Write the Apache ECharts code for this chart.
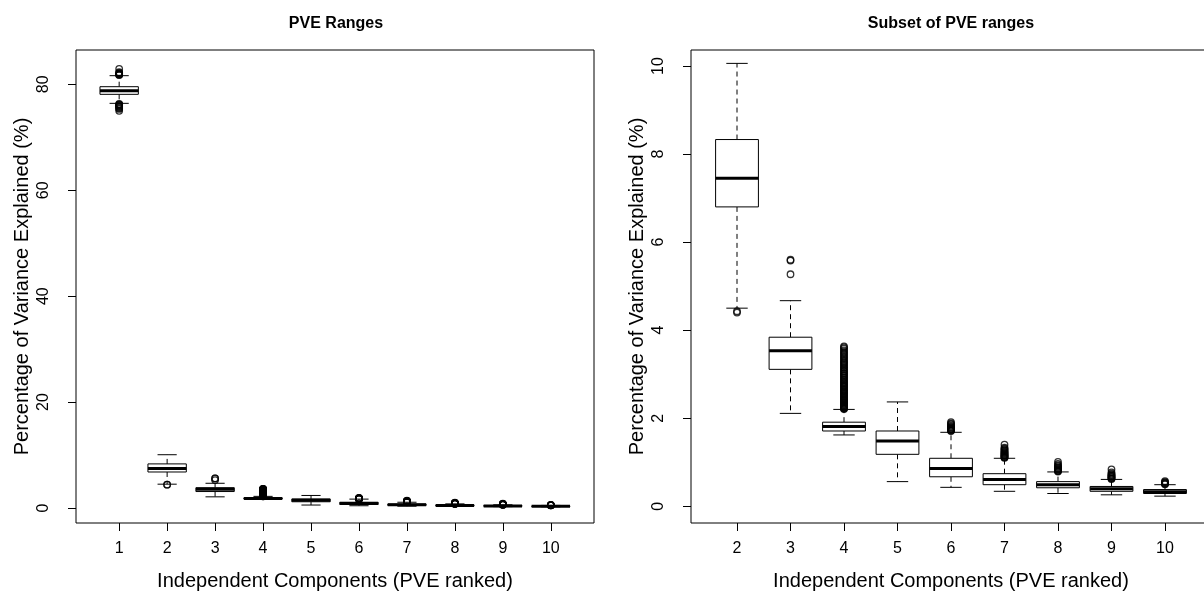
<!DOCTYPE html>
<html>
<head>
<meta charset="utf-8">
<script src="https://cdn.jsdelivr.net/npm/echarts@6/dist/echarts.min.js"></script>
<style>
  html, body { margin: 0; padding: 0; background: #fff; }
  #chart { width: 1204px; height: 592px; }
</style>
</head>
<body>
<div id="chart"></div>
<script>
// ---- data ----
const components = [1, 2, 3, 4, 5, 6, 7, 8, 9, 10];
const subsetComponents = [2, 3, 4, 5, 6, 7, 8, 9, 10];
const whiskerLow  = [76.41, 4.50, 2.11, 1.62, 0.56, 0.43, 0.34, 0.29, 0.26, 0.23];
const quartile1   = [78.11, 6.80, 3.11, 1.71, 1.18, 0.67, 0.49, 0.42, 0.34, 0.29];
const medians     = [78.79, 7.45, 3.53, 1.81, 1.48, 0.86, 0.61, 0.49, 0.40, 0.33];
const quartile3   = [79.55, 8.33, 3.84, 1.91, 1.71, 1.09, 0.74, 0.56, 0.45, 0.38];
const whiskerHigh = [81.63, 10.06, 4.67, 2.20, 2.37, 1.68, 1.09, 0.78, 0.61, 0.49];
const outliers1  = [81.75, 81.82, 81.9, 81.97, 82.05, 82.15, 82.3, 82.9, 76.3, 76.22, 76.12, 76.0, 75.9, 75.78, 75.65, 75.5, 75.35, 75.0];
const outliers2  = [4.40, 4.43];
const outliers3  = [5.27, 5.58, 5.60];
const outliers4  = [2.21, 2.22, 2.23, 2.24, 2.25, 2.26, 2.28, 2.29, 2.30, 2.32, 2.33, 2.35, 2.36, 2.38, 2.40, 2.41,
                    2.43, 2.45, 2.47, 2.49, 2.51, 2.53, 2.55, 2.57, 2.59, 2.61, 2.63, 2.65, 2.67, 2.70, 2.72, 2.74,
                    2.76, 2.79, 2.81, 2.83, 2.86, 2.88, 2.91, 2.93, 2.96, 2.98, 3.01, 3.03, 3.06, 3.08, 3.11, 3.14,
                    3.16, 3.19, 3.22, 3.25, 3.27, 3.30, 3.33, 3.36, 3.39, 3.42, 3.45, 3.48, 3.51, 3.54, 3.58, 3.61, 3.63];
const outliers5  = [];
const outliers6  = [1.71, 1.72, 1.73, 1.75, 1.76, 1.78, 1.79, 1.81, 1.83, 1.86, 1.88, 1.91];
const outliers7  = [1.10, 1.11, 1.12, 1.13, 1.15, 1.16, 1.17, 1.19, 1.20, 1.22, 1.23, 1.25, 1.27, 1.29, 1.31, 1.33, 1.40];
const outliers8  = [0.79, 0.80, 0.81, 0.83, 0.84, 0.86, 0.87, 0.89, 0.91, 0.93, 0.96, 1.01];
const outliers9  = [0.62, 0.63, 0.64, 0.66, 0.67, 0.69, 0.70, 0.72, 0.74, 0.77, 0.84];
const outliers10 = [0.50, 0.51, 0.52, 0.54, 0.55, 0.57];
const outlierLists = [outliers1, outliers2, outliers3, outliers4, outliers5, outliers6, outliers7, outliers8, outliers9, outliers10];
const leftYTicks  = [0, 20, 40, 60, 80];
const rightYTicks = [0, 2, 4, 6, 8, 10];

// ---- build ----
const FONT = "'Liberation Sans', Arial, Helvetica, sans-serif";
function boxData(list) {
  return list.map(c => {
    const i = components.indexOf(c);
    return [c, whiskerLow[i], quartile1[i], medians[i], quartile3[i], whiskerHigh[i]];
  });
}
function outlierData(list) {
  const out = [];
  list.forEach(c => {
    const i = components.indexOf(c);
    outlierLists[i].forEach(v => out.push([c, v]));
  });
  return out;
}
function renderBox(params, api) {
  const x = api.value(0);
  const lo = api.value(1), q1 = api.value(2), md = api.value(3), q3 = api.value(4), hi = api.value(5);
  const tl = api.coord([x - 0.4, q3]);
  const br = api.coord([x + 0.4, q1]);
  const c = api.coord([x, md]);
  const yLo = api.coord([x, lo])[1];
  const yHi = api.coord([x, hi])[1];
  const capL = api.coord([x - 0.2, lo])[0];
  const capR = api.coord([x + 0.2, lo])[0];
  const solid = { stroke: '#000', lineWidth: 1 };
  const dashed = { stroke: '#000', lineWidth: 1, lineDash: [5, 4] };
  return {
    type: 'group',
    children: [
      { type: 'line', shape: { x1: c[0], y1: tl[1], x2: c[0], y2: yHi }, style: dashed },
      { type: 'line', shape: { x1: c[0], y1: br[1], x2: c[0], y2: yLo }, style: dashed },
      { type: 'line', shape: { x1: capL, y1: yHi, x2: capR, y2: yHi }, style: solid },
      { type: 'line', shape: { x1: capL, y1: yLo, x2: capR, y2: yLo }, style: solid },
      { type: 'rect', shape: { x: tl[0], y: tl[1], width: br[0] - tl[0], height: br[1] - tl[1] },
        style: { stroke: '#000', fill: '#fff', lineWidth: 1 } },
      { type: 'line', shape: { x1: tl[0], y1: c[1], x2: br[0], y2: c[1] }, style: { stroke: '#000', lineWidth: 3 } }
    ]
  };
}
function xAxisOf(gridIndex, min, max, ticks) {
  return {
    type: 'value', gridIndex, min, max, position: 'bottom',
    name: 'Independent Components (PVE ranked)', nameLocation: 'middle', nameGap: 48, nameMoveOverlap: false,
    nameTextStyle: { fontFamily: FONT, fontSize: 20, color: '#000' },
    axisLine: { show: false, onZero: false },
    axisTick: { show: true, inside: false, length: 8, lineStyle: { color: '#000' }, customValues: ticks },
    axisLabel: { show: true, margin: 18, fontFamily: FONT, fontSize: 16, color: '#000', customValues: ticks },
    splitLine: { show: false }
  };
}
function yAxisOf(gridIndex, min, max, ticks) {
  return {
    type: 'value', gridIndex, min, max, position: 'left',
    name: 'Percentage of Variance Explained (%)', nameLocation: 'middle', nameGap: 44, nameRotate: 90, nameMoveOverlap: false,
    nameTextStyle: { fontFamily: FONT, fontSize: 20, color: '#000' },
    axisLine: { show: false, onZero: false },
    axisTick: { show: true, inside: false, length: 8, lineStyle: { color: '#000' }, customValues: ticks },
    axisLabel: { show: true, rotate: 90, margin: 24, fontFamily: FONT, fontSize: 16, color: '#000', customValues: ticks },
    splitLine: { show: false }
  };
}
const chart = echarts.init(document.getElementById('chart'), null, { renderer: 'canvas' });
const outlierStyle = { color: 'transparent', borderColor: '#000', borderWidth: 1.3 };
chart.setOption({
  animation: false,
  backgroundColor: '#fff',
  graphic: [
    { type: 'text', x: 336, y: 24, style: { text: 'PVE Ranges', font: "bold 16px 'Liberation Sans', Arial, sans-serif", fill: '#000', textAlign: 'center', textVerticalAlign: 'middle' } },
    { type: 'text', x: 951, y: 24, style: { text: 'Subset of PVE ranges', font: "bold 16px 'Liberation Sans', Arial, sans-serif", fill: '#000', textAlign: 'center', textVerticalAlign: 'middle' } }
  ],
  grid: [
    { left: 76, top: 50, width: 518, height: 473, show: true, borderColor: '#000', borderWidth: 1, backgroundColor: 'transparent',
      containLabel: false, outerBoundsMode: 'none' },
    { left: 691, top: 50, width: 520, height: 473, show: true, borderColor: '#000', borderWidth: 1, backgroundColor: 'transparent',
      containLabel: false, outerBoundsMode: 'none' }
  ],
  xAxis: [
    xAxisOf(0, 0.1, 10.9, components),
    xAxisOf(1, 1.14, 10.86, subsetComponents)
  ],
  yAxis: [
    yAxisOf(0, -2.83, 86.48, leftYTicks),
    yAxisOf(1, -0.38, 10.364, rightYTicks)
  ],
  series: [
    { type: 'custom', xAxisIndex: 0, yAxisIndex: 0, renderItem: renderBox, data: boxData(components), silent: true },
    { type: 'scatter', xAxisIndex: 0, yAxisIndex: 0, data: outlierData(components), symbol: 'circle', symbolSize: 6.5,
      itemStyle: outlierStyle, silent: true },
    { type: 'custom', xAxisIndex: 1, yAxisIndex: 1, renderItem: renderBox, data: boxData(subsetComponents), silent: true },
    { type: 'scatter', xAxisIndex: 1, yAxisIndex: 1, data: outlierData(subsetComponents), symbol: 'circle', symbolSize: 6.5,
      itemStyle: outlierStyle, silent: true }
  ]
});
</script>
</body>
</html>
